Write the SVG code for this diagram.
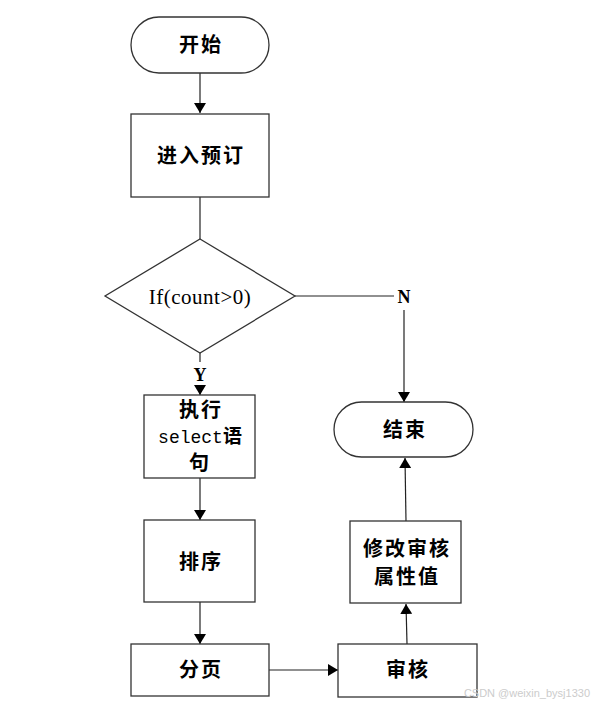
<svg xmlns="http://www.w3.org/2000/svg" width="594" height="705" viewBox="0 0 594 705">
<style>
.box{fill:#fff;stroke:#333;stroke-width:1.3}
.ln{fill:none;stroke:#222;stroke-width:1.2}
.cn{font-family:"Noto Sans CJK SC","Liberation Serif",serif;font-size:20px;font-weight:bold;letter-spacing:2px;fill:#000;text-anchor:middle}
.lat{font-family:"Liberation Serif",serif;font-size:21px;letter-spacing:0.5px;fill:#000;text-anchor:middle}
.lbl{font-family:"Liberation Serif",serif;font-size:18px;font-weight:bold;fill:#000;text-anchor:middle}
</style>
<defs>
<marker id="ah" markerWidth="10" markerHeight="12" refX="10" refY="6" orient="auto" markerUnits="userSpaceOnUse">
<path d="M0,0 L10,6 L0,12 Z" fill="#000"/>
</marker>
</defs>
<rect width="594" height="705" fill="#fff"/>
<g id="connectors">
<line class="ln" x1="200" y1="73" x2="200" y2="113" marker-end="url(#ah)"/>
<line class="ln" x1="200" y1="197" x2="200" y2="239"/>
<polyline class="ln" points="295,296 394,296"/>
<line class="ln" x1="404" y1="310" x2="404" y2="402" marker-end="url(#ah)"/>
<line class="ln" x1="200" y1="353" x2="200" y2="362"/>
<line class="ln" x1="200" y1="385" x2="200" y2="395" marker-end="url(#ah)"/>
<line class="ln" x1="200" y1="478" x2="200" y2="520" marker-end="url(#ah)"/>
<line class="ln" x1="200" y1="602" x2="200" y2="644" marker-end="url(#ah)"/>
<line class="ln" x1="269" y1="670" x2="338" y2="670" marker-end="url(#ah)"/>
<line class="ln" x1="407" y1="644" x2="406" y2="604" marker-end="url(#ah)"/>
<line class="ln" x1="406" y1="521" x2="405" y2="458" marker-end="url(#ah)"/>
<text class="lbl" x="404" y="303">N</text>
<text class="lbl" x="200" y="381">Y</text>
</g>
<g id="start">
<rect class="box" x="131" y="17" width="138" height="56" rx="28" ry="28"/>
<text class="cn" x="201" y="52">开始</text>
</g>
<g id="enter">
<rect class="box" x="131" y="114" width="138" height="83"/>
<text class="cn" x="201" y="163">进入预订</text>
</g>
<g id="decision">
<polygon class="box" points="200,239 295,296 200,353 105,296"/>
<text class="lat" x="200" y="304">If(count&gt;0)</text>
</g>
<g id="select">
<rect class="box" x="144" y="395" width="111" height="83"/>
<text class="cn" x="201" y="417">执行</text>
<text x="200" y="443" style="font-family:'Liberation Mono','Noto Sans CJK SC',monospace;font-size:18px;text-anchor:middle"><tspan>select</tspan><tspan style="font-family:'Noto Sans CJK SC',sans-serif;font-weight:bold;font-size:19px">语</tspan></text>
<text class="cn" x="200" y="470">句</text>
</g>
<g id="sort">
<rect class="box" x="144" y="520" width="111" height="82"/>
<text class="cn" x="201" y="569">排序</text>
</g>
<g id="page">
<rect class="box" x="131" y="644" width="138" height="52"/>
<text class="cn" x="201" y="677">分页</text>
</g>
<g id="audit">
<rect class="box" x="338" y="644" width="139" height="53"/>
<text class="cn" x="408" y="677">审核</text>
</g>
<g id="modify">
<rect class="box" x="350" y="521" width="111" height="82"/>
<text class="cn" x="407" y="556">修改审核</text>
<text class="cn" x="407" y="584">属性值</text>
</g>
<g id="end">
<rect class="box" x="334" y="402" width="139" height="55" rx="27.5" ry="27.5"/>
<text class="cn" x="405" y="437">结束</text>
</g>
<text x="590" y="697" style="font-family:'Liberation Sans',sans-serif;font-size:11px;fill:#ccc;text-anchor:end">CSDN @weixin_bysj1330</text>
</svg>
